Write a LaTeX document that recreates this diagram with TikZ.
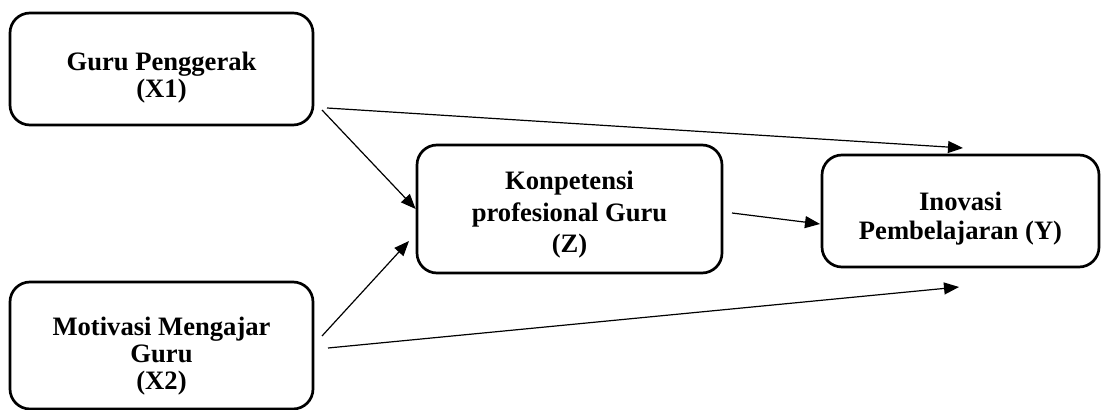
\documentclass[tikz,border=0pt]{standalone}
\usepackage{fontspec}
\setmainfont{Liberation Serif}
\usepackage{tikz}
\usetikzlibrary{arrows.meta}

\begin{document}
\begin{tikzpicture}[x=0.5pt,y=-0.5pt,>={Triangle[length=7.5pt,width=6pt]},
    var/.style={rectangle,draw=black,line width=1.35pt,rounded corners=10pt},
    txt/.style={align=center,inner sep=0pt,font=\fontsize{13.3}{13.5}\selectfont\bfseries},
    link/.style={->,line width=0.6pt}]
    \useasboundingbox (0,0) rectangle (1101,410);
    % variabel
    \node[var,minimum width=151.5pt,minimum height=56pt,
      label={[txt,yshift=-4.5pt]center:{Guru Penggerak\\(X1)}}] (x1) at (161.5,69) {};
    \node[var,minimum width=151.5pt,minimum height=63.5pt,
      label={[txt,yshift=-5.5pt]center:{Motivasi Mengajar\\Guru\\(X2)}}] (x2) at (161.5,345.5) {};
    \node[var,minimum width=152.5pt,minimum height=64pt,
      label={[txt,yshift=-3pt,font=\fontsize{13.3}{15.7}\selectfont\bfseries]center:{Konpetensi\\profesional Guru\\(Z)}}] (z) at (569.5,209) {};
    \node[var,minimum width=138.5pt,minimum height=56pt,
      label={[txt,yshift=-4pt,font=\fontsize{13.3}{14.5}\selectfont\bfseries]center:{Inovasi\\Pembelajaran (Y)}}] (y) at (960.5,211) {};
    % ujung panah
    \coordinate (x1a) at (322,110);
    \coordinate (x1b) at (327,108);
    \coordinate (x2a) at (322,336);
    \coordinate (x2b) at (328,348);
    \coordinate (za) at (732,213);
    \coordinate (zin) at (409,241);
    \coordinate (yup) at (963,148);
    \coordinate (ydown) at (959,287);
    \coordinate (yin) at (820,224);
    % hubungan
    \draw[link] (x1a) -- (z.west);
    \draw[link] (x1b) -- (yup);
    \draw[link] (x2a) -- (zin);
    \draw[link] (x2b) -- (ydown);
    \draw[link] (za) -- (yin);
\end{tikzpicture}
\end{document}
